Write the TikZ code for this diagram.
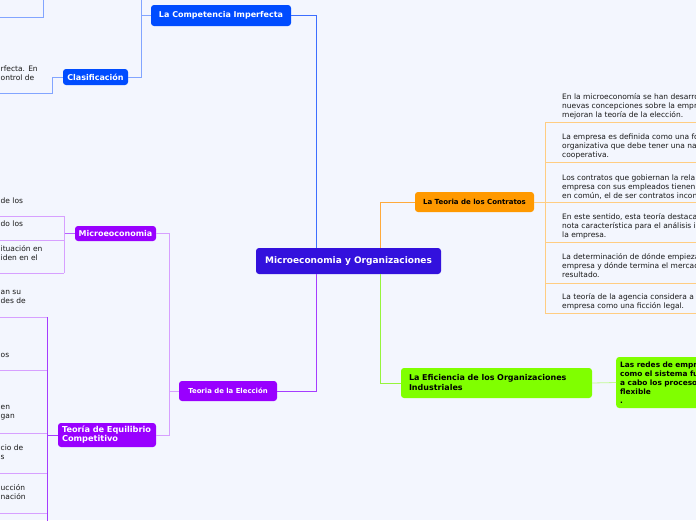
\documentclass[tikz,border=0pt]{standalone}
\usepackage{fontspec}
\setmainfont{DejaVu Sans}
\definecolor{bg}{RGB}{243,246,254}
\definecolor{cmain}{RGB}{51,17,221}
\definecolor{cblue}{RGB}{0,76,255}
\definecolor{corange}{RGB}{255,153,0}
\definecolor{cgreen}{RGB}{128,255,0}
\definecolor{cpurple}{RGB}{153,0,255}
\definecolor{lblue}{RGB}{130,165,255}
\definecolor{mblue}{RGB}{60,110,255}
\definecolor{lorange}{RGB}{255,205,130}
\definecolor{morange}{RGB}{255,170,60}
\definecolor{lgreen}{RGB}{195,250,150}
\definecolor{mgreen}{RGB}{150,245,60}
\definecolor{lpurple}{RGB}{215,160,255}
\definecolor{mpurple}{RGB}{165,60,255}
\definecolor{txt}{RGB}{25,25,25}
\tikzset{
  topic/.style={rounded corners=3pt, inner sep=0pt, font=\bfseries\fontsize{8}{9}\selectfont, text=white},
  note/.style={align=left, inner sep=0pt, font=\fontsize{7.5}{9}\selectfont, text=txt},
  link/.style={line width=0.8pt},
}
\begin{document}
\begin{tikzpicture}[x=1pt,y=-1pt]
\fill[bg] (0,0) rectangle (696,520);
\useasboundingbox (0,0) rectangle (696,520);
\begin{scope}
\clip (0,0) rectangle (696,520);
% nodes
\node[topic, fill=cmain, minimum width=185pt, minimum height=26pt, font=\bfseries\fontsize{9}{10}\selectfont] (root) at (348.5,261) {Microeconomia y Organizaciones};
\node[topic, fill=cblue, minimum width=140pt, minimum height=21pt] (comp) at (221,15.5) {La Competencia Imperfecta};
\node[topic, fill=cblue, minimum width=65pt, minimum height=16pt] (clas) at (95.5,77) {Clasificación};
\node[topic, fill=corange, text=black, minimum width=119pt, minimum height=20pt, font=\bfseries\fontsize{7}{8}\selectfont] (contr) at (474.5,202) {La Teoria de los Contratos};
\node[topic, fill=cgreen, text=black, minimum width=191pt, minimum height=30pt, text width=175pt, align=left, font=\bfseries\fontsize{8}{10}\selectfont] (efic) at (496.5,383) {La Eficiencia de los Organizaciones\\Industriales};
\node[topic, fill=cgreen, text=black, anchor=west, minimum width=100pt, minimum height=51pt, text width=92pt, align=left, font=\bfseries\fontsize{7.4}{9}\selectfont] (redes) at (616,382.5) {Las redes de empr\\como el sistema fu\\a cabo los proceso\\flexible\\.};
\node[topic, fill=cpurple, minimum width=98pt, minimum height=20pt, font=\bfseries\fontsize{6.9}{8}\selectfont] (elec) at (228,391) {Teoria de la Elección};
\node[topic, fill=cpurple, minimum width=81pt, minimum height=15pt] (micro) at (115.5,233.5) {Microeoconomia};
\node[topic, fill=cpurple, minimum width=98pt, minimum height=24pt, text width=90pt, align=left, font=\bfseries\fontsize{8.2}{9}\selectfont] (equi) at (107,435) {Teoría de Equilibrio\\Competitivo};
% main connectors
\draw[link, mblue] (comp.east) -| ([xshift=-32.5pt]root.north);
\draw[link, morange] ([xshift=31.5pt]root.north) |- (contr.west);
\draw[link, mgreen] ([xshift=31.5pt]root.south) |- (efic.west);
\draw[link, mpurple] ([xshift=-32.5pt]root.south) |- (elec.east);
% blue branch
\coordinate (cj) at (141,0);
\coordinate (cl1) at (0,93);
\coordinate (tl1) at (43,0);
\coordinate (tl2) at (0,17);
\draw[link, lblue] (comp.west) -- (comp.west -| cj);
\draw[link, lblue] (cj) |- (clas.east);
\draw[link, lblue] (clas.west) -- ++(-10,0) |- (cl1);
\draw[link, lblue] (tl1) |- (tl2);
\node[note, anchor=west] (f0) at (0.5,73) {rfecta. En\\ontrol de};
% orange branch
\coordinate (cv) at (545,202.7);
\draw[link, lorange] (contr.east) -- (contr.east -| cv);
\draw[link, lorange] (545,122.7) -- (545,313);
\foreach \yy in {122.7,162,202.7,242,283,313} \draw[link, lorange] (545,\yy) -- (700,\yy);
\node[note, anchor=west] (n1) at (562,106) {En la microeconomía se han desarro\\nuevas concepciones sobre la empr\\mejoran la teoría de la elección.};
\node[note, anchor=west] (n2) at (562,146) {La empresa es definida como una fo\\organizativa que debe tener una na\\cooperativa.};
\node[note, anchor=west] (n3) at (562,187) {Los contratos que gobiernan la rela\\empresa con sus empleados tienen\\en común, el de ser contratos incon};
\node[note, anchor=west] (n4) at (562,226) {En este sentido, esta teoría destaca\\nota característica para el análisis i\\la empresa.};
\node[note, anchor=west] (n5) at (562,266) {La determinación de dónde empieza\\empresa y dónde termina el mercad\\resultado.};
\node[note, anchor=west] (n6) at (562,301.5) {La teoría de la agencia considera a\\empresa como una ficción legal.};
% green branch
\draw[link, lgreen] (efic.east) -- (redes.west);
% purple branch
\coordinate (ej) at (169,391);
\draw[link, lpurple] (elec.west) -- (ej);
\draw[link, lpurple] (micro.east) -| (ej);
\draw[link, lpurple] (equi.east) -| (ej);
\draw[link, mpurple!80] (micro.west) -- (64,233.5);
\draw[link, lpurple] (64,216) -- (64,273);
\foreach \yy in {216,240.7,273} \draw[link, lpurple] (0,\yy) -- (64,\yy);
\draw[link, mpurple] (equi.west) -- (47,435);
\draw[link, mpurple] (47,317) -- (47,525);
\foreach \yy in {317,370.7,433,473,513} \draw[link, lpurple] (0,\yy) -- (47,\yy);
\node[note, anchor=west] (m1) at (0.5,200.7) {de los};
\node[note, anchor=west] (m2) at (0.5,224) {do los};
\node[note, anchor=west] (m3) at (0.5,253.5) {ituación en\\iden en el};
\node[note, anchor=west] (e1) at (0.5,297) {an su\\des de};
\node[note, anchor=west] (e2) at (0.5,355.5) {os};
\node[note, anchor=west] (e3) at (0.5,412.5) {en\\gan};
\node[note, anchor=west] (e4) at (0.5,452.5) {cio de\\s};
\node[note, anchor=west] (e5) at (0.5,492.5) {ucción\\nación};
\end{scope}
\end{tikzpicture}
\end{document}
